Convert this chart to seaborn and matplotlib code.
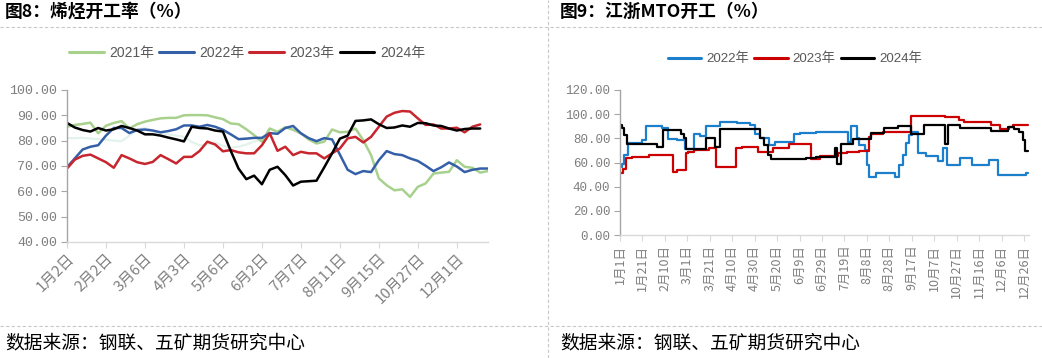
import numpy as np
import pandas as pd
import matplotlib
matplotlib.use("Agg")
import matplotlib.pyplot as plt
import seaborn as sns
from matplotlib.lines import Line2D

# ---------------- data: 图8 烯烃开工率 (weekly) ----------------
olefin_ticklabels = ['1月2日', '2月2日', '3月6日', '4月3日', '5月6日', '6月2日',
                     '7月7日', '8月11日', '9月15日', '10月27日', '12月1日']
olefin_faint = [81.0, 81.0, 81.1, 80.8, 80.6, 80.4, 80.0, 79.8, 82.0, 84.5,
                85.0, 84.0, 83.0, 82.5, 82.0, 81.5, 79.5, 78.2, 78.5, 79.2,
                78.0, 77.3, 77.6, 78.5, 79.6, 80.5]
olefin_2021 = [85.5, 86.2, 86.6, 87.1, 82.9, 85.9, 87.0, 87.7, 84.8, 86.5,
               87.5, 88.2, 88.8, 89.0, 89.0, 90.0, 90.1, 90.1, 90.0, 89.2,
               88.5, 86.8, 86.5, 84.5, 82.2, 79.6, 84.8, 83.5, 85.3, 84.3,
               82.9, 80.5, 78.9, 79.6, 84.4, 83.3, 83.5, 84.8, 80.2, 74.3,
               65.1, 62.4, 60.4, 60.8, 57.8, 61.8, 63.1, 67.0, 67.4, 67.7,
               72.3, 69.7, 69.3, 67.4, 68.0]
olefin_2022 = [69.5, 73.0, 76.5, 77.6, 78.2, 82.0, 85.0, 85.0, 83.0, 84.2,
               84.4, 84.0, 83.3, 83.8, 84.5, 86.0, 86.0, 85.5, 86.2, 85.5,
               84.3, 82.5, 80.6, 80.8, 81.1, 81.1, 83.0, 82.7, 85.0, 85.8,
               82.9, 81.0, 79.8, 81.0, 80.5, 74.5, 68.5, 66.8, 68.0, 67.6,
               72.3, 75.9, 74.7, 74.3, 73.0, 72.0, 70.1, 68.0, 69.5, 71.4,
               69.8, 67.6, 68.5, 69.0, 69.0]
olefin_2023 = [69.0, 72.5, 74.0, 74.5, 73.0, 71.5, 69.3, 74.3, 73.0, 71.5,
               70.8, 71.6, 74.3, 72.7, 71.0, 73.6, 73.6, 75.9, 79.6, 78.5,
               75.8, 76.3, 75.4, 75.0, 75.0, 78.2, 82.9, 76.0, 77.6, 74.3,
               75.6, 75.0, 75.0, 73.0, 75.0, 76.9, 80.9, 81.5, 79.3, 81.5,
               85.5, 89.5, 91.0, 91.7, 91.5, 88.8, 86.2, 86.4, 84.8, 84.8,
               85.1, 83.3, 85.5, 86.4]
olefin_2024 = [87.0, 85.2, 84.2, 83.6, 85.0, 84.0, 84.5, 85.8, 85.0, 84.0,
               82.5, 82.5, 82.0, 81.2, 80.5, 79.7, 85.5, 85.0, 84.8, 84.0,
               83.6, 76.0, 69.0, 64.8, 66.2, 62.8, 68.5, 69.7, 66.4, 62.3,
               63.8, 64.0, 64.2, 69.5, 75.0, 80.8, 82.0, 87.8, 88.0, 88.4,
               86.5, 85.0, 85.2, 86.0, 85.5, 87.0, 86.9, 86.0, 85.8, 84.8,
               84.0, 84.6, 84.8, 84.8]

# ---------------- data: 图9 江浙MTO开工 (daily, read as step changes) ----------------
mto_ticklabels = ['1月1日', '1月21日', '2月10日', '3月1日', '3月21日', '4月10日',
                  '4月30日', '5月20日', '6月9日', '6月29日', '7月19日', '8月8日',
                  '8月28日', '9月17日', '10月7日', '10月27日', '11月16日',
                  '12月6日', '12月26日']
mto_2022_day = [0, 2, 4, 7, 20, 23, 37, 43, 51, 58, 66, 71, 77, 89, 104, 116,
                120, 125, 133, 138, 155, 160, 175, 203, 206, 211, 213, 218,
                220, 222, 228, 245, 249, 252, 255, 258, 260, 266, 273, 283,
                288, 291, 303, 314, 329, 337, 362]
mto_2022_val = [56.6, 58.5, 66.2, 75.9, 78.6, 90.5, 88.5, 79.8, 78.8, 71.0,
                83.3, 82.0, 90.0, 93.8, 92.4, 91.0, 84.0, 80.5, 74.5, 77.2,
                83.3, 84.1, 85.5, 77.2, 90.5, 80.0, 74.5, 70.0, 58.0, 48.3,
                51.0, 48.3, 58.0, 66.0, 75.9, 82.8, 85.5, 68.0, 65.7, 61.2,
                72.3, 58.0, 64.0, 58.0, 62.0, 49.7, 51.0]
mto_2023_day = [0, 3, 5, 11, 26, 47, 51, 59, 61, 66, 79, 86, 103, 109, 123,
                136, 151, 170, 178, 194, 202, 213, 222, 224, 234, 259, 290,
                302, 307, 331, 339, 347, 350]
mto_2023_val = [51.0, 55.0, 63.4, 64.8, 66.2, 52.4, 53.8, 67.6, 69.0, 70.3,
                71.7, 56.6, 71.7, 73.1, 68.5, 71.7, 75.0, 62.5, 65.5, 67.6,
                69.0, 69.5, 81.4, 83.5, 85.0, 98.8, 98.0, 95.0, 93.2, 91.0,
                87.7, 89.7, 91.0]
mto_2024_day = [0, 2, 4, 6, 33, 38, 54, 57, 59, 77, 85, 89, 125, 128, 132,
                135, 166, 175, 192, 193, 197, 208, 224, 235, 248, 259, 271,
                290, 292, 303, 331, 346, 351, 356, 359, 361]
mto_2024_val = [91.0, 88.8, 82.8, 75.0, 72.8, 86.9, 83.3, 80.0, 71.0, 80.5,
                72.5, 87.5, 80.0, 74.5, 66.2, 62.9, 64.0, 64.8, 71.7, 58.5,
                75.0, 79.5, 84.5, 88.3, 90.0, 83.8, 91.3, 75.5, 90.8, 88.3,
                86.2, 89.5, 87.5, 85.5, 78.6, 69.5]
N_DAYS = 365

# ---------------- style ----------------
sns.set_theme(style="white")
plt.rcParams['font.family'] = ['Liberation Sans', 'Noto Sans CJK SC']
plt.rcParams['axes.unicode_minus'] = False

W, H = 1042, 358
fig = plt.figure(figsize=(W / 100, H / 100), dpi=100)
fig.patch.set_facecolor('white')


def ax_rect(x0, y0, x1, y1):
    return [x0 / W, 1 - y1 / H, (x1 - x0) / W, (y1 - y0) / H]


def expand(days, vals, n):
    dur = np.diff(list(days) + [n])
    return np.repeat(vals, dur)


TICK_GRAY = '#7F7F7F'
CJK = ['Noto Sans CJK SC', 'DejaVu Sans']

# ---------------- left panel ----------------
axL = fig.add_axes(ax_rect(67, 90, 488, 242))
left_series = [
    (olefin_faint, '#E3F3EC', 1.6),
    (olefin_2021, '#A9D18E', 1.8),
    (olefin_2022, '#3560A8', 1.8),
    (olefin_2023, '#C7262E', 1.8),
    (olefin_2024, '#000000', 1.8),
]
for vals, col, lw in left_series:
    d = pd.DataFrame({'idx': np.arange(len(vals)), 'v': vals})
    sns.lineplot(data=d, x='idx', y='v', ax=axL, color=col, linewidth=lw)

axL.set_xlim(0, 54)
axL.set_ylim(40, 100)
axL.set_yticks(np.arange(40, 101, 10))
axL.set_yticklabels([f"{v:.2f}" for v in np.arange(40, 101, 10)],
                    family='Liberation Mono', fontsize=9.6, color=TICK_GRAY)
axL.set_xticks(np.arange(0, 51, 5))
axL.set_xticklabels(olefin_ticklabels, rotation=45, ha='right', va='top',
                    rotation_mode='anchor', family=CJK, fontsize=10.8,
                    color=TICK_GRAY)

# ---------------- right panel ----------------
axR = fig.add_axes(ax_rect(620, 90, 1029, 235))
right_series = [
    (mto_2022_day, mto_2022_val, '#1B7FCB'),
    (mto_2023_day, mto_2023_val, '#CC0000'),
    (mto_2024_day, mto_2024_val, '#000000'),
]
days = np.arange(N_DAYS)
for dd, vv, col in right_series:
    d = pd.DataFrame({'day': days, 'v': expand(dd, vv, N_DAYS)})
    sns.lineplot(data=d, x='day', y='v', ax=axR, color=col, linewidth=1.6,
                 drawstyle='steps-post')

axR.set_xlim(0, 364.5)
axR.set_ylim(0, 120)
axR.set_yticks(np.arange(0, 121, 20))
axR.set_yticklabels([f"{v:.2f}" for v in np.arange(0, 121, 20)],
                    family='Liberation Mono', fontsize=9.0, color=TICK_GRAY)
axR.set_xticks(np.arange(0, 361, 20))
axR.set_xticklabels(mto_ticklabels, rotation=90, ha='center', va='top',
                    family=CJK, fontsize=9.0, color=TICK_GRAY)

for ax in (axL, axR):
    ax.set_xlabel('')
    ax.set_ylabel('')
    ax.set_facecolor('white')
    for s in ('top', 'right'):
        ax.spines[s].set_visible(False)
    ax.spines['left'].set_color('#A6A6A6')
    ax.spines['left'].set_linewidth(1.0)
    ax.spines['bottom'].set_color('#D9D9D9')
    ax.spines['bottom'].set_linewidth(1.0)
    ax.tick_params(axis='y', which='both', left=True, length=4, width=0.8,
                   color='#A6A6A6', pad=3)
    ax.tick_params(axis='x', which='both', bottom=True, length=4, width=0.8,
                   color='#D9D9D9', pad=3)
    ax.grid(False)

# ---------------- legends ----------------
legL = [Line2D([], [], color=c, lw=2.2) for c in ['#A9D18E', '#3560A8', '#C7262E', '#000000']]
fig.legend(legL, ['2021年', '2022年', '2023年', '2024年'], loc='center',
           bbox_to_anchor=(247 / W, 1 - 53 / H), ncol=4, frameon=False,
           prop={'family': ['Liberation Sans', 'Noto Sans CJK SC'], 'size': 10},
           handlelength=2.5, handletextpad=0.4, columnspacing=0.35,
           labelcolor='#595959')
legR = [Line2D([], [], color=c, lw=2.2) for c in ['#1B7FCB', '#CC0000', '#000000']]
fig.legend(legR, ['2022年', '2023年', '2024年'], loc='center',
           bbox_to_anchor=(795 / W, 1 - 59 / H), ncol=3, frameon=False,
           prop={'family': ['Liberation Sans', 'Noto Sans CJK SC'], 'size': 9.6},
           handlelength=2.5, handletextpad=0.4, columnspacing=0.35,
           labelcolor='#595959')

# ---------------- titles, source, separators ----------------
fig.text(5 / W, 1 - 12 / H, '图8：烯烃开工率（%）', fontsize=12.8, fontweight='bold',
         family=CJK, va='center', ha='left', color='black')
fig.text(560 / W, 1 - 12 / H, '图9：江浙MTO开工（%）', fontsize=12.8, fontweight='bold',
         family=CJK, va='center', ha='left', color='black')
fig.text(5 / W, 1 - 343 / H, '数据来源：钢联、五矿期货研究中心', fontsize=13.5,
         family=CJK, va='center', ha='left', color='black')
fig.text(560 / W, 1 - 343 / H, '数据来源：钢联、五矿期货研究中心', fontsize=13.5,
         family=CJK, va='center', ha='left', color='black')

dash = dict(color='#C8C8C8', linewidth=0.8, linestyle=(0, (3, 2)))
fig.add_artist(Line2D([0, 1], [1 - 27 / H] * 2, transform=fig.transFigure, **dash))
fig.add_artist(Line2D([0, 1], [1 - 326 / H] * 2, transform=fig.transFigure, **dash))
fig.add_artist(Line2D([548 / W] * 2, [0, 1], transform=fig.transFigure, **dash))

fig.savefig('out.png', dpi=100, facecolor='white')
